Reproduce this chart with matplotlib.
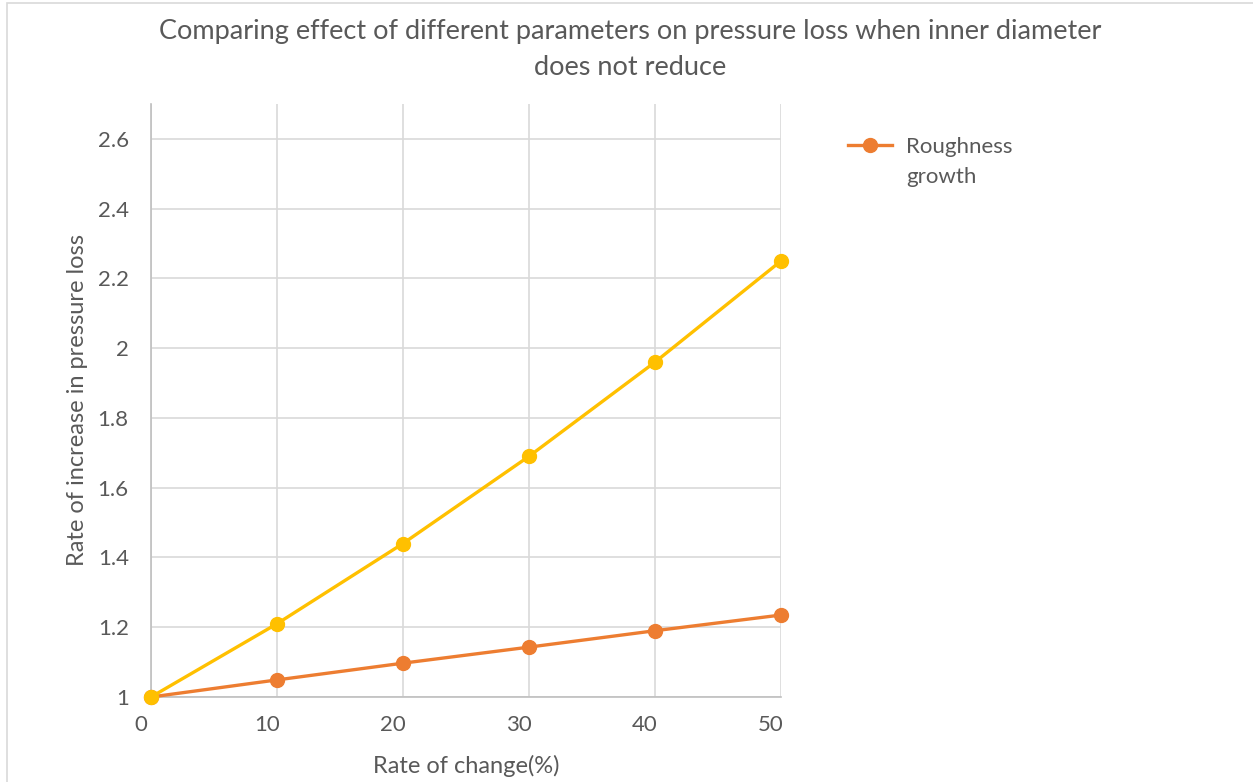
import matplotlib
matplotlib.use("Agg")
import matplotlib.pyplot as plt
import matplotlib.transforms as mtransforms
from matplotlib.patches import Rectangle

# Data
rate_of_change = [0, 10, 20, 30, 40, 50]
roughness_growth = [1.0, 1.049, 1.097, 1.143, 1.19, 1.235]
other_series = [1.0, 1.21, 1.44, 1.69, 1.96, 2.25]
x_ticks = [0, 10, 20, 30, 40, 50]
y_ticks = [1, 1.2, 1.4, 1.6, 1.8, 2, 2.2, 2.4, 2.6]
y_tick_labels = ["1", "1.2", "1.4", "1.6", "1.8", "2", "2.2", "2.4", "2.6"]

TXT = "#595959"
plt.rcParams['font.family'] = ['Lato', 'DejaVu Sans']

fig = plt.figure(figsize=(12.53, 7.82), dpi=100)
fig.patch.set_facecolor("white")
# chart border
fig.patches.append(Rectangle((7/1253, -0.1), 1.2, (782-3)/782 + 0.1, transform=fig.transFigure,
                             fill=False, edgecolor="#D9D9D9", linewidth=1.2, zorder=0))

ax = fig.add_axes([151/1253, (782-697)/782, 630/1253, 593/782])

ax.plot(rate_of_change, roughness_growth, color="#ED7D31", linewidth=2.4, marker="o",
        markersize=10, label="Roughness", zorder=3, clip_on=False)
ax.plot(rate_of_change, other_series, color="#FFC000", linewidth=2.4, marker="o",
        markersize=10, zorder=4, clip_on=False, label="_nolegend_")

ax.set_xlim(0, 50)
ax.set_ylim(1, 2.7)
ax.set_xticks(x_ticks)
ax.set_yticks(y_ticks)
ax.set_yticklabels(y_tick_labels)
ax.grid(True, color="#D9D9D9", linewidth=1.2)
ax.set_axisbelow(True)
for s in ["top", "right"]:
    ax.spines[s].set_visible(False)
for s in ["left", "bottom"]:
    ax.spines[s].set_color("#BFBFBF")
    ax.spines[s].set_linewidth(1.2)
ax.tick_params(axis="both", length=0, labelsize=16, labelcolor=TXT)
ax.tick_params(axis="x", pad=13)
ax.tick_params(axis="y", pad=16)

offset = mtransforms.ScaledTranslation(-0.10, 0, fig.dpi_scale_trans)
for lbl in ax.get_xticklabels():
    lbl.set_transform(lbl.get_transform() + offset)

ax.set_xlabel("Rate of change(%)", fontsize=17, color=TXT, labelpad=14)
ax.set_ylabel("Rate of increase in pressure loss", fontsize=17, color=TXT, labelpad=7)

fig.text(0.503, 0.976, "Comparing effect of different parameters on pressure loss when inner diameter\ndoes not reduce",
         ha="center", va="top", fontsize=19.5, color=TXT, linespacing=1.55)

leg = ax.legend(loc="center left", bbox_to_anchor=(848/1253, 1 - 147/782), bbox_transform=fig.transFigure,
                frameon=False, fontsize=16, handlelength=2.0, handletextpad=0.6, labelcolor=TXT,
                borderpad=0, borderaxespad=0)
leg.set_zorder(5)
leg_text = leg.get_texts()[0]
ax.annotate("growth", xy=(0, 0), xycoords=leg_text, xytext=(0, -7), textcoords="offset points",
            ha="left", va="top", fontsize=16, color=TXT, annotation_clip=False, zorder=10)

fig.savefig("out.png", dpi=100, facecolor="white")
